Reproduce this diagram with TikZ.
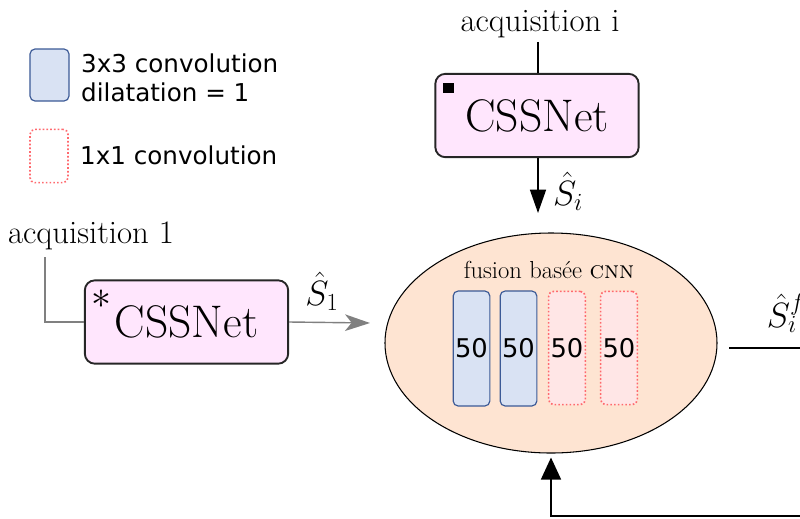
\RequirePackage{fix-cm}
\documentclass[tikz,border=0pt]{standalone}
\usepackage{fontspec}
\newfontfamily\legendfont{DejaVu Sans}
\usepackage{tikz}
\usetikzlibrary{arrows.meta, shapes.geometric}

\definecolor{netpink}{RGB}{255,230,253}
\definecolor{fusionpeach}{RGB}{254,228,210}
\definecolor{convblue}{RGB}{217,226,243}
\definecolor{convblueline}{RGB}{60,90,150}
\definecolor{dotpink}{RGB}{255,230,230}
\definecolor{dotred}{RGB}{255,105,110}

\begin{document}
\begin{tikzpicture}[x=0.03cm, y=-0.03cm,
    netbox/.style={draw=black!85, line width=1.6pt, rounded corners=0.3cm, fill=netpink,
      minimum width=6.1cm, minimum height=2.5cm, font=\fontsize{39}{44}\selectfont},
    acqlabel/.style={font=\fontsize{28}{32}\selectfont},
    siglabel/.style={font=\fontsize{30}{34}\selectfont},
    convbox/.style={draw=convblueline, fill=convblue, line width=1pt, rounded corners=0.15cm,
      minimum width=1.1cm, minimum height=3.45cm, inner sep=0pt,
      font=\legendfont\fontsize{22}{26}\selectfont},
    pointbox/.style={draw=dotred, fill=dotpink, line width=1.4pt, dash pattern=on 1.4pt off 1.8pt,
      rounded corners=0.15cm, minimum width=1.1cm, minimum height=3.4cm, inner sep=0pt,
      font=\legendfont\fontsize{22}{26}\selectfont},
    legendtext/.style={font=\legendfont\fontsize{21}{25}\selectfont, align=left, inner sep=0pt, anchor=west}]

  \useasboundingbox (0,0) rectangle (800,518);
  \clip (0,0) rectangle (800,518);

  % --- legend ---
  \node[convbox, minimum width=1.17cm, minimum height=1.56cm] (legconv) at (49.5,75) {};
  \node[legendtext] (legconvtxt) at (81,78) {3x3 convolution\\dilatation = 1};
  \node[pointbox, fill=none, minimum width=1.14cm, minimum height=1.6cm] (legpoint) at (49,156) {};
  \node[legendtext] (legpointtxt) at (80,155) {1x1 convolution};

  % --- acquisition i (top) ---
  \node[acqlabel] (acqi) at (540,24) {acquisition i};
  \node[netbox] (neti) at (537,115.5) {CSSNet};
  \node[fill=black, minimum size=0.32cm, inner sep=0pt] (marki) at (448.5,88) {};
  \draw[line width=1pt] (acqi.south) ++(-2,0) -- (neti.north -| 538,0);

  % --- acquisition 1 (left) ---
  \node[acqlabel] (acq1) at (91,236) {acquisition 1};
  \node[netbox] (net1) at (186.5,322) {CSSNet};
  \node[font=\fontsize{34}{38}\selectfont, inner sep=0pt] (mark1) at (101,299) {$\ast$};
  \coordinate (acq1foot) at (45,257);
  \draw[gray, line width=1.2pt] (acq1foot) |- (net1.west);

  % --- fusion ---
  \node[ellipse, draw, fill=fusionpeach, line width=0.9pt,
    minimum width=9.96cm, minimum height=6.6cm] (fusion) at (551,343) {};
  \node[font=\fontsize{21}{24}\selectfont] (fusiontxt) at (549,270) {fusion basée \textsc{cnn}};
  \node[convbox] (conva) at (471.5,348.5) {50};
  \node[convbox] (convb) at (518.5,348.5) {50};
  \node[pointbox] (convc) at (567,348) {50};
  \node[pointbox] (convd) at (619,348) {50};

  % --- outputs into the fusion ---
  \coordinate (s1end) at (370,323);
  \draw[gray, line width=1.2pt, -{Stealth[length=0.75cm, width=0.5cm, inset=0.2cm]}]
    (net1.east) -- (s1end);
  \node[siglabel] (s1) at (322,291) {$\hat{S}_1$};
  \coordinate (siend) at (538,213);
  \draw[line width=1.3pt, -{Triangle[length=0.7cm, width=0.48cm]}]
    (neti.south -| siend) -- (siend);
  \node[siglabel] (si) at (568,191) {$\hat{S}_i$};

  % --- output and feedback ---
  \coordinate (outstart) at (729,348);
  \coordinate (outend) at (820,348);
  \draw[line width=1.3pt] (outstart) -- (outend);
  \node[siglabel] (sif) at (786,313) {$\hat{S}_i^f$};
  \coordinate (backstart) at (820,516);
  \draw[line width=1.3pt, -{Triangle[length=0.66cm, width=0.6cm]}, shorten >=0.12cm]
    (backstart) -| (fusion.south);
\end{tikzpicture}
\end{document}
